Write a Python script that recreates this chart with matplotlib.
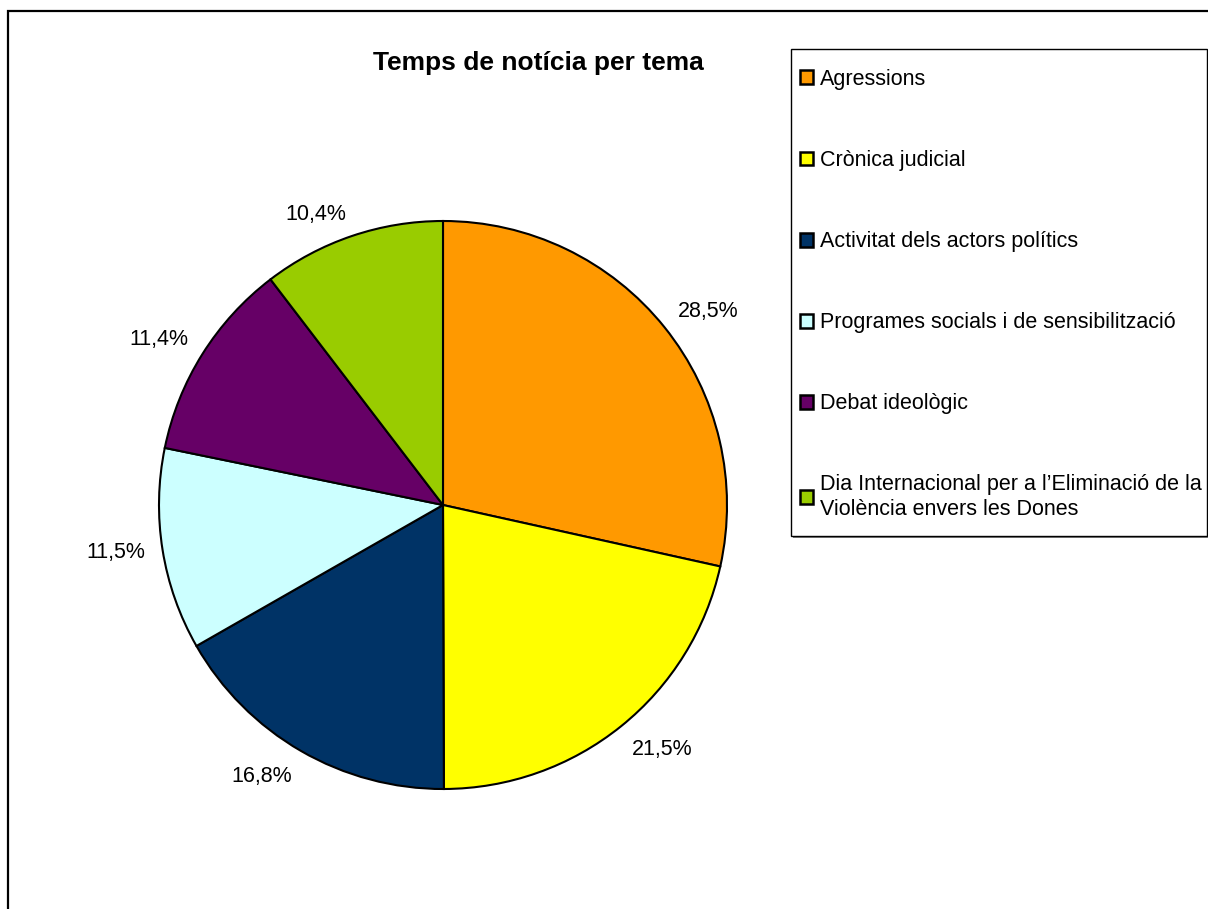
import matplotlib
matplotlib.use("Agg")
import matplotlib.pyplot as plt
from matplotlib.patches import Rectangle

plt.rcParams['font.family'] = ['Liberation Sans', 'DejaVu Sans']

# data
temes = ['Agressions',
         'Crònica judicial',
         'Activitat dels actors polítics',
         'Programes socials i de sensibilització',
         'Debat ideològic',
         'Dia Internacional per a l\u2019Eliminació de la\nViolència envers les Dones']
percent = [28.5, 21.5, 16.8, 11.5, 11.4, 10.4]
colors = ['#FF9900', '#FFFF00', '#003366', '#CCFFFF', '#660066', '#99CC00']

W, H = 1208, 909
fig = plt.figure(figsize=(W / 100, H / 100), dpi=100)

# pie axes: centre (443, 505), radius 284 px
cx, cy, r = 443, 505, 284
ax = fig.add_axes([(cx - r) / W, (H - cy - r) / H, 2 * r / W, 2 * r / H])
labels = [f"{v:.1f}%".replace('.', ',') for v in percent]
wedges, texts = ax.pie(percent, colors=colors, labels=labels, startangle=90,
                       counterclock=False, labeldistance=1.06,
                       wedgeprops=dict(edgecolor='black', linewidth=1.5),
                       textprops=dict(fontsize=15.5, color='black'))
# excel-like: nearest corner of the label sits on the slice's mid ray
for t in texts:
    x, y = t.get_position()
    t.set_ha('left' if x > 0 else 'right')
    if abs(y) < 0.3:
        t.set_va('center')
    else:
        t.set_va('baseline' if y > 0 else 'top')
ax.set_xlim(-1, 1)
ax.set_ylim(-1, 1)
ax.set_aspect('auto')

fig.text(538 / W, 1 - 63 / H, 'Temps de notícia per tema', ha='center',
         va='center', fontsize=19, fontweight='bold')

# legend
leg = fig.legend(wedges, temes, loc='upper left',
                 bbox_to_anchor=(800 / W, 1 - 69 / H), frameon=False,
                 fontsize=15.5, labelspacing=2.79, handlelength=0.62,
                 handleheight=0.62, handletextpad=0.33, borderpad=0,
                 borderaxespad=0)
for h in leg.legend_handles:
    h.set_linewidth(1.8)

# legend box with shadow
fig.add_artist(Rectangle((793 / W, 1 - 538 / H), 416 / W, 487 / H,
                         transform=fig.transFigure, facecolor='#808080',
                         edgecolor='none', zorder=-2))
fig.add_artist(Rectangle((791 / W, 1 - 536 / H), 416 / W, 487 / H,
                         transform=fig.transFigure, facecolor='white',
                         edgecolor='black', linewidth=1, zorder=-1))

# outer chart border
fig.add_artist(Rectangle((8 / W, -0.1), 1.1, 1.1 - 11 / H,
                         transform=fig.transFigure, fill=False,
                         edgecolor='black', linewidth=1.6))

fig.savefig('out.png', dpi=100)
